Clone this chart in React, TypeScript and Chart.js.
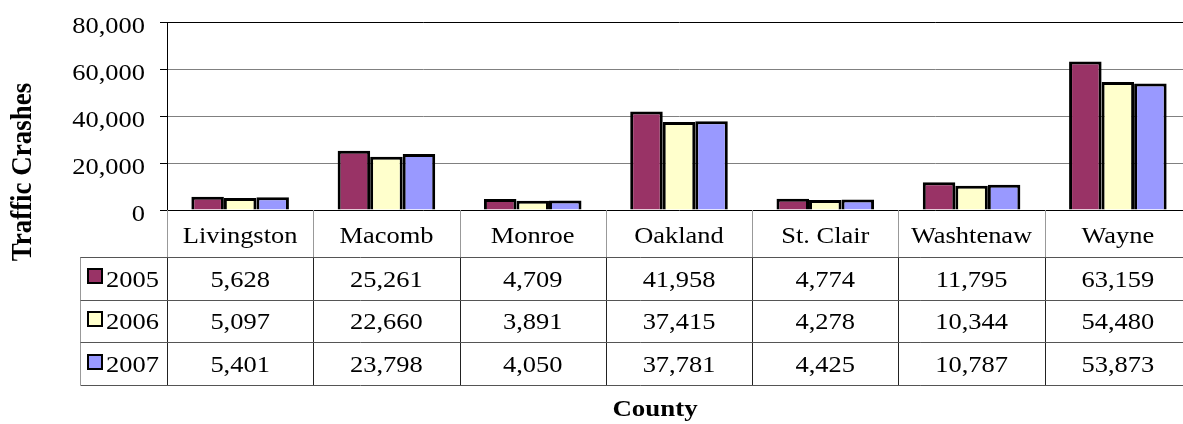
import React, { useEffect, useRef } from "react";
import { Chart, registerables } from "chart.js";

Chart.register(...registerables);

const counties = ["Livingston", "Macomb", "Monroe", "Oakland", "St. Clair", "Washtenaw", "Wayne"];
const years = ["2005", "2006", "2007"];
const crashes2005 = [5628, 25261, 4709, 41958, 4774, 11795, 63159];
const crashes2006 = [5097, 22660, 3891, 37415, 4278, 10344, 54480];
const crashes2007 = [5401, 23798, 4050, 37781, 4425, 10787, 53873];
const yTicks = [0, 20000, 40000, 60000, 80000];
const colors = ["#993366", "#FFFFCC", "#9999FF"];

const FONT = "'Liberation Serif', 'Times New Roman', serif";
const SX = 1.15;

function txt(ctx: CanvasRenderingContext2D, s: string, x: number, y: number, align: CanvasTextAlign, font: string, sx = SX) {
  ctx.save();
  ctx.font = font;
  ctx.fillStyle = "#000";
  ctx.textAlign = align;
  ctx.textBaseline = "alphabetic";
  ctx.translate(x, y);
  ctx.scale(sx, 1);
  ctx.fillText(s, 0, 0);
  ctx.restore();
}

function line(ctx: CanvasRenderingContext2D, x1: number, y1: number, x2: number, y2: number, color: string, w = 1) {
  ctx.save();
  ctx.strokeStyle = color;
  ctx.lineWidth = w;
  ctx.beginPath();
  ctx.moveTo(x1, y1);
  ctx.lineTo(x2, y2);
  ctx.stroke();
  ctx.restore();
}

const tablePlugin = {
  id: "tablePlugin",
  afterDraw(chart: any) {
    const ctx: CanvasRenderingContext2D = chart.ctx;
    const xs = chart.scales.x;
    const ys = chart.scales.y;
    const area = chart.chartArea;
    const n = counties.length;
    const catW = (area.right - area.left) / n;
    const labelFont = `23px ${FONT}`;

    yTicks.forEach((v) => {
      const y = Math.round(ys.getPixelForValue(v)) + 0.5;
      line(ctx, area.left - 7, y, area.left, y, "#000");
      txt(ctx, v.toLocaleString("en-US"), 145, y + 10, "right", labelFont);
    });

    const series = [crashes2005, crashes2006, crashes2007];
    const top = area.bottom;
    const catH = 47;
    const rowH = 42.7;
    const dataTop = top + catH;
    const bottom = dataTop + rowH * 3;
    const legendLeft = 80.5;
    const right = chart.width;

    for (let i = 0; i <= n; i++) {
      const x = Math.round(area.left + i * catW) + 0.5;
      line(ctx, x, top, x, dataTop, "#999");
      line(ctx, x, dataTop, x, bottom, "#222");
    }
    line(ctx, legendLeft, dataTop, legendLeft, bottom, "#999");
    for (let r = 0; r <= 3; r++) {
      const y = Math.round(dataTop + r * rowH) + 0.5;
      line(ctx, legendLeft, y, right, y, "#555");
    }

    counties.forEach((c, i) => {
      const cx = xs.getPixelForValue(i);
      txt(ctx, c, cx, dataTop - 14, "center", labelFont);
    });

    series.forEach((vals, r) => {
      const rb = dataTop + (r + 1) * rowH;
      const rc = dataTop + (r + 0.5) * rowH;
      ctx.save();
      ctx.fillStyle = colors[r];
      ctx.fillRect(88, Math.round(rc - 9), 14, 14);
      ctx.strokeStyle = "#000";
      ctx.lineWidth = 2;
      ctx.strokeRect(88, Math.round(rc - 9), 14, 14);
      ctx.restore();
      txt(ctx, years[r], 106, rb - 13, "left", labelFont);
      vals.forEach((v, i) => {
        const cx = xs.getPixelForValue(i);
        txt(ctx, v.toLocaleString("en-US"), cx, rb - 13, "center", labelFont);
      });
    });

    ctx.save();
    ctx.font = `bold 27px ${FONT}`;
    ctx.fillStyle = "#000";
    ctx.textAlign = "center";
    ctx.textBaseline = "middle";
    ctx.translate(23, 172);
    ctx.scale(1.08, 1);
    ctx.rotate(-Math.PI / 2);
    ctx.fillText("Traffic Crashes", 0, 0);
    ctx.restore();

    txt(ctx, "County", 655, 416, "center", `bold 24px ${FONT}`, 1.12);
  },
};

export default function App() {
  const ref = useRef<HTMLCanvasElement | null>(null);
  useEffect(() => {
    document.body.style.overflow = "hidden";
    let chart: any = null;
    let cancelled = false;
    const make = () => {
      if (cancelled || !ref.current) return;
      chart = new Chart(ref.current, {
        type: "bar",
        data: {
          labels: counties,
          datasets: [
            { label: years[0], data: crashes2005, backgroundColor: colors[0] },
            { label: years[1], data: crashes2006, backgroundColor: colors[1] },
            { label: years[2], data: crashes2007, backgroundColor: colors[2] },
          ].map((d) => ({
            ...d,
            borderColor: "#000",
            borderWidth: 3,
            borderSkipped: "start",
            categoryPercentage: 0.667,
            barPercentage: 1,
          })),
        },
        options: {
          responsive: false,
          animation: false,
          devicePixelRatio: 1,
          layout: { padding: { left: 0, top: 22, right: 9, bottom: 214 } },
          plugins: { legend: { display: false }, tooltip: { enabled: false } },
          scales: {
            x: { display: false },
            y: {
              min: 0,
              max: 80000,
              ticks: { display: false, stepSize: 20000 },
              grid: {
                drawTicks: false,
                color: (c: any) => (c.tick && (c.tick.value === 80000 || c.tick.value === 0) ? "#000" : "#808080"),
              },
              border: { display: true, color: "#000", width: 1 },
              afterFit: (s: any) => {
                s.width = 167;
              },
            },
          },
        },
        plugins: [tablePlugin],
      } as any);
    };
    Promise.all([
      document.fonts.load(`23px "Liberation Serif"`),
      document.fonts.load(`bold 27px "Liberation Serif"`),
    ])
      .catch(() => null)
      .then(() => make());
    return () => {
      cancelled = true;
      if (chart) chart.destroy();
    };
  }, []);
  return (
    <div style={{ position: "fixed", left: 0, top: 0, width: 1183, height: 424, overflow: "hidden", background: "#fff" }}>
      <canvas ref={ref} width={1200} height={424} style={{ width: 1200, height: 424, display: "block" }} />
    </div>
  );
}
